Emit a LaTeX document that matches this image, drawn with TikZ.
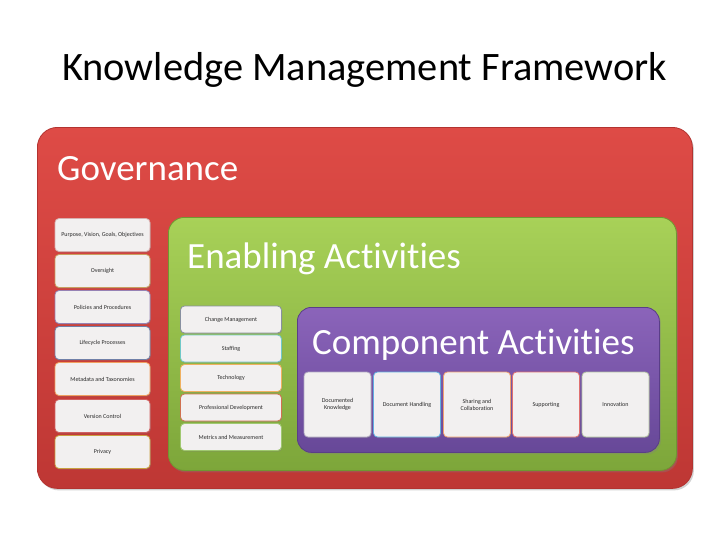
\documentclass[tikz,border=0pt]{standalone}
\usepackage{fontspec}
\setmainfont{Carlito}[Ligatures={NoCommon,NoRare}]
\usetikzlibrary{shadows}
\definecolor{redtop}{HTML}{DE4B46}
\definecolor{redbot}{HTML}{BE3734}
\definecolor{redline}{HTML}{B33330}
\definecolor{greentop}{HTML}{A8D158}
\definecolor{greenbot}{HTML}{7DA63A}
\definecolor{greenline}{HTML}{6F9830}
\definecolor{purptop}{HTML}{8B64BA}
\definecolor{purpbot}{HTML}{674898}
\definecolor{purpline}{HTML}{5A3E88}
\definecolor{boxfill}{HTML}{F2F0F0}
\definecolor{boxtext}{HTML}{2A2A2A}
\definecolor{bg1}{HTML}{D8B0B0}
\definecolor{bg2}{HTML}{C8A060}
\definecolor{bg3}{HTML}{9682B4}
\definecolor{bg4}{HTML}{7080A8}
\definecolor{bg5}{HTML}{F0A060}
\definecolor{bg6}{HTML}{D06060}
\definecolor{bg7}{HTML}{C8A040}
\definecolor{be1}{HTML}{8890A0}
\definecolor{be2}{HTML}{70C8C8}
\definecolor{be3}{HTML}{F0B060}
\definecolor{be4}{HTML}{D07050}
\definecolor{be5}{HTML}{A0C870}
\definecolor{bc1}{HTML}{B0A8C0}
\definecolor{bc2}{HTML}{60B0E0}
\definecolor{bc3}{HTML}{F0A070}
\definecolor{bc4}{HTML}{E07070}
\definecolor{bc5}{HTML}{B0C0A0}
\tikzset{
  container/.style={rounded corners=#1, anchor=north west, inner sep=0pt,
     drop shadow={opacity=0.35, shadow xshift=1.5pt, shadow yshift=-2pt}},
  redbox/.style={container=20pt, top color=redtop, bottom color=redbot, draw=redline, line width=0.8pt},
  greenbox/.style={container=16pt, top color=greentop, bottom color=greenbot, draw=greenline, line width=0.8pt},
  purpbox/.style={container=14pt, top color=purptop, bottom color=purpbot, draw=purpline, line width=0.8pt},
  biglabel/.style={anchor=west, text=white, inner sep=0pt},
  item/.style={rounded corners=4pt, fill=boxfill, draw=#1, line width=0.8pt,
     text=boxtext, font=\fontsize{6}{7}\selectfont, align=center, inner sep=1pt,
     drop shadow={opacity=0.3, shadow xshift=0.8pt, shadow yshift=-1.2pt}},
  leftitem/.style={item=#1, minimum width=95pt, minimum height=33pt},
  miditem/.style={item=#1, minimum width=101pt, minimum height=27pt},
  compitem/.style={item=#1, minimum width=67pt, minimum height=65pt},
}
\begin{document}
\begin{tikzpicture}[x=1pt,y=-1pt]
\useasboundingbox[fill=white] (0,0) rectangle (728,546);
% title
\node[anchor=base west, inner sep=0pt, font=\fontsize{40.4}{44}\selectfont] (title) at (62,80) {Knowledge Management Framework};
% containers
\node[redbox, minimum width=655pt, minimum height=361pt] (gov) at (37,127) {};
\node[biglabel, font=\fontsize{37}{40}\selectfont] (govlabel) at (57,169) {Governance};
\node[greenbox, minimum width=508pt, minimum height=253pt] (enab) at (168,217) {};
\node[biglabel, font=\fontsize{37}{40}\selectfont] (enablabel) at (187,259) {Enabling Activities};
\node[purpbox, minimum width=362pt, minimum height=145pt] (comp) at (297,307) {};
\node[biglabel, font=\fontsize{37}{40}\selectfont] (complabel) at (312,345) {Component Activities};
% governance column
\node[leftitem=bg1] (g1) at (102.5,235) {Purpose, Vision, Goals, Objectives};
\node[leftitem=bg2] (g2) at (102.5,271) {Oversight};
\node[leftitem=bg3] (g3) at (102.5,307) {Policies and Procedures};
\node[leftitem=bg4] (g4) at (102.5,343) {Lifecycle Processes};
\node[leftitem=bg5] (g5) at (102.5,379) {Metadata and Taxonomies};
\node[leftitem=bg6] (g6) at (102.5,416) {Version Control};
\node[leftitem=bg7] (g7) at (102.5,452) {Privacy};
% enabling column
\node[miditem=be1] (e1) at (231,319.5) {Change Management};
\node[miditem=be2] (e2) at (231,348.5) {Staffing};
\node[miditem=be3] (e3) at (231,378) {Technology};
\node[miditem=be4] (e4) at (231,407.5) {Professional Development};
\node[miditem=be5] (e5) at (231,437) {Metrics and Measurement};
% component row
\node[compitem=bc1] (c1) at (337.5,404.5) {Documented\\Knowledge};
\node[compitem=bc2] (c2) at (407,404.5) {Document Handling};
\node[compitem=bc3] (c3) at (477,404.5) {Sharing and\\Collaboration};
\node[compitem=bc4] (c4) at (546,404.5) {Supporting};
\node[compitem=bc5] (c5) at (615.5,404.5) {Innovation};
\end{tikzpicture}
\end{document}
